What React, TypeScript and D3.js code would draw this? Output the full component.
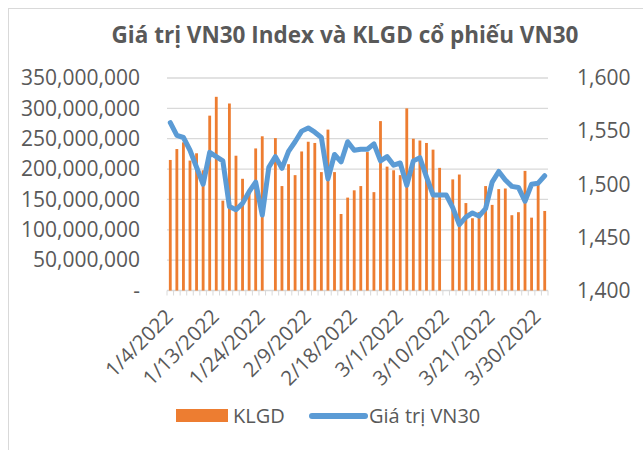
import React from "react";
import * as d3 from "d3";

const dates = [
  "1/4/2022", "1/5/2022", "1/6/2022", "1/7/2022", "1/10/2022", "1/11/2022", "1/12/2022", "1/13/2022",
  "1/14/2022", "1/17/2022", "1/18/2022", "1/19/2022", "1/20/2022", "1/21/2022", "1/24/2022", "1/25/2022",
  "1/26/2022", "1/27/2022", "1/28/2022", "2/7/2022", "2/8/2022", "2/9/2022", "2/10/2022", "2/11/2022",
  "2/14/2022", "2/15/2022", "2/16/2022", "2/17/2022", "2/18/2022", "2/21/2022", "2/22/2022", "2/23/2022",
  "2/24/2022", "2/25/2022", "2/28/2022", "3/1/2022", "3/2/2022", "3/3/2022", "3/4/2022", "3/7/2022",
  "3/8/2022", "3/9/2022", "3/10/2022", "3/11/2022", "3/14/2022", "3/15/2022", "3/16/2022", "3/17/2022",
  "3/18/2022", "3/21/2022", "3/22/2022", "3/23/2022", "3/24/2022", "3/25/2022", "3/28/2022", "3/29/2022",
  "3/30/2022", "3/31/2022",
];

// KLGD in millions of shares (null = no bar visible)
const klgd: (number | null)[] = [
  215, 233, 244, 214, 226, 198, 288, 319, 148, 308, 222, 184, 162, 234, 254, null,
  251, 172, 208, 190, 229, 245, 243, 195, 265, 195, 126, 153, 165, 172, 228, 162,
  279, 204, 198, 190, 300, 250, 247, 243, 232, 202, null, 183, 191, 144, 119, 129,
  172, 141, 167, 168, 124, 129, 197, 120, 175, 131,
];

const vn30 = [
  1558, 1546, 1544, 1532, 1516, 1500, 1530, 1526, 1522, 1479, 1476, 1482, 1493, 1502, 1471, 1516,
  1526, 1515, 1531, 1540, 1550, 1553, 1549, 1544, 1505, 1528, 1521, 1540, 1532, 1533, 1533, 1538,
  1522, 1526, 1518, 1520, 1499, 1522, 1525, 1507, 1490, 1490, 1490, 1478, 1462, 1469, 1473, 1470,
  1477, 1502, 1512, 1504, 1498, 1497, 1484, 1500, 1501, 1508,
];

const leftTicks = [0, 50, 100, 150, 200, 250, 300, 350];
const rightTicks = [1400, 1450, 1500, 1550, 1600];
const labelEvery = 7;

const FONT = "'Open Sans', 'Noto Sans', sans-serif";
const TEXT = "#595959";
const GRID = "#D9D9D9";
const ORANGE = "#ED7D31";
const BLUE = "#5B9BD5";

export default function App() {
  const left = 167;
  const right = 548;
  const top = 78;
  const bottom = 290.5;

  const x = d3
    .scaleBand<number>()
    .domain(d3.range(dates.length))
    .range([left, right])
    .paddingInner(0.57)
    .paddingOuter(0.285);
  const bw = x.bandwidth();
  const step = x.step();
  const cx = (i: number) => (x(i) as number) + bw / 2;

  const yL = d3.scaleLinear().domain([0, 350]).range([bottom, top]);
  const yR = d3.scaleLinear().domain([1400, 1600]).range([bottom, top]);

  const line = d3
    .line<number>()
    .x((_, i) => cx(i))
    .y((d) => yR(d));

  const fmt = d3.format(",");

  return (
    <svg
      width={643}
      height={450}
      style={{ position: "absolute", left: 0, top: 0, background: "#fff" }}
      fontFamily={FONT}
    >
      <line x1={8} x2={643} y1={8.5} y2={8.5} stroke={GRID} />
      <line x1={8.5} x2={8.5} y1={8} y2={450} stroke={GRID} />

      <text
        x={345}
        y={43}
        textAnchor="middle"
        fontSize={22.5}
        fontWeight="bold"
        fill={TEXT}
      >
        Giá trị VN30 Index và KLGD cổ phiếu VN30
      </text>

      {leftTicks.map((t) => (
        <line key={"g" + t} x1={left} x2={right} y1={yL(t)} y2={yL(t)} stroke={GRID} strokeWidth={1.3} />
      ))}

      {d3.range(dates.length + 1).map((i) => (
        <line
          key={"tk" + i}
          x1={left + i * step}
          x2={left + i * step}
          y1={bottom}
          y2={bottom + 5}
          stroke={GRID}
        />
      ))}

      {klgd.map((v, i) =>
        v == null ? null : (
          <rect key={"b" + i} x={x(i)} y={yL(v)} width={bw} height={bottom - yL(v)} fill={ORANGE} />
        )
      )}

      <path
        d={line(vn30) || ""}
        fill="none"
        stroke={BLUE}
        strokeWidth={5}
        strokeLinejoin="round"
        strokeLinecap="round"
      />

      {leftTicks.map((t) => (
        <text
          key={"l" + t}
          x={140}
          y={yL(t)}
          dy="0.35em"
          textAnchor="end"
          fontSize={21}
          fill={TEXT}
        >
          {t === 0 ? "-" : fmt(t * 1e6)}
        </text>
      ))}

      {rightTicks.map((t) => (
        <text key={"r" + t} x={577} y={yR(t)} dy="0.35em" fontSize={21} fill={TEXT}>
          {fmt(t)}
        </text>
      ))}

      {dates.map((d, i) =>
        i % labelEvery === 0 ? (
          <text
            key={"x" + i}
            transform={`translate(${cx(i) + 4},${318}) rotate(-45)`}
            textAnchor="end"
            fontSize={20.5}
            fill={TEXT}
          >
            {d}
          </text>
        ) : null
      )}

      <rect x={176} y={409} width={52} height={13} fill={ORANGE} />
      <text x={233} y={422.5} fontSize={20} fill={TEXT}>
        KLGD
      </text>
      <line x1={312} x2={365} y1={416} y2={416} stroke={BLUE} strokeWidth={6} strokeLinecap="round" />
      <text x={369} y={422.5} fontSize={20} fill={TEXT}>
        Giá trị VN30
      </text>
    </svg>
  );
}
